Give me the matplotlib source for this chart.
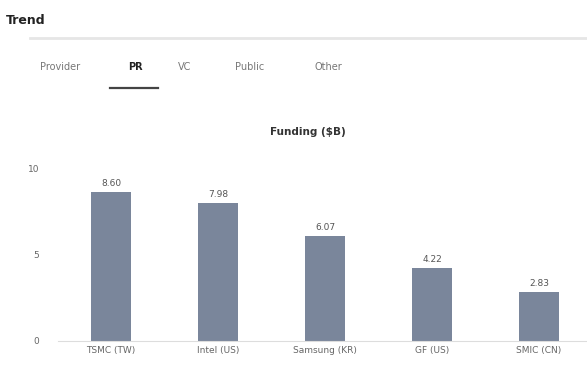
import matplotlib.pyplot as plt
from matplotlib.lines import Line2D

# Chart data
categories = ['TSMC (TW)', 'Intel (US)', 'Samsung (KR)', 'GF (US)', 'SMIC (CN)']
values = [8.6, 7.98, 6.07, 4.22, 2.83]
y_ticks = [0, 5, 10]
tabs = ['Provider', 'PR', 'VC', 'Public', 'Other']
tab_x = [60, 135, 185, 250, 328]

fig = plt.figure(figsize=(5.87, 3.69), dpi=100)
W, H = 587, 369

def fx(px):
    return px / W

def fy(py):
    return 1 - py / H

# Header and divider
fig.text(fx(6), fy(20), 'Trend', fontsize=9, fontweight='bold', color='#222222',
         va='center', ha='left')
fig.add_artist(Line2D([fx(30), 1], [fy(38), fy(38)], color='#e6e6e6', lw=2))

# Tab strip
for name, x in zip(tabs, tab_x):
    selected = name == 'PR'
    fig.text(fx(x), fy(67), name, fontsize=7, ha='center', va='center',
             color='#222222' if selected else '#777777',
             fontweight='bold' if selected else 'normal')
fig.add_artist(Line2D([fx(110), fx(158)], [fy(88), fy(88)], color='#444444', lw=1.6))

# Chart title
fig.text(fx(308), fy(132), 'Funding ($B)', fontsize=7.5, fontweight='bold',
         color='#333333', ha='center', va='center')

# Bar chart
ax = fig.add_axes([fx(57.5), fy(341), fx(535), (341 - 168) / H])
bars = ax.bar(range(len(categories)), values, width=0.37, color='#7a869b')
for b, v in zip(bars, values):
    ax.text(b.get_x() + b.get_width() / 2, v + 0.25, f'{v:.2f}', ha='center',
            va='bottom', fontsize=6.5, color='#555555')

ax.set_xlim(-0.5, 4.5)
ax.set_ylim(0, 10)
ax.set_yticks(y_ticks)
ax.set_xticks(range(len(categories)))
ax.set_xticklabels(categories)
ax.tick_params(axis='both', length=0, labelsize=6.5, labelcolor='#666666')
ax.tick_params(axis='y', pad=13)
for side in ['top', 'right', 'left']:
    ax.spines[side].set_visible(False)
ax.spines['bottom'].set_color('#dddddd')

fig.savefig('out.png', dpi=100)
